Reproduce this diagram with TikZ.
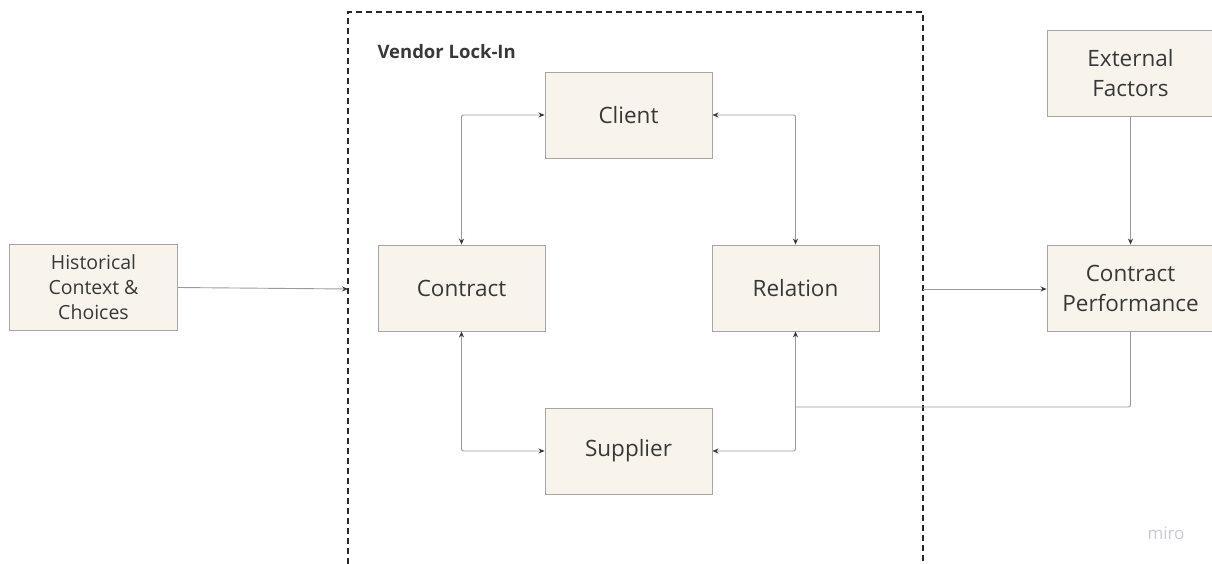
\documentclass[tikz,border=0pt]{standalone}
\usepackage{fontspec}
\setmainfont{Open Sans}
\usetikzlibrary{arrows.meta}
\definecolor{boxfill}{HTML}{F8F4EC}
\definecolor{boxline}{HTML}{A6A6A6}
\definecolor{conn}{HTML}{9A9A9A}
\definecolor{txt}{HTML}{383838}
\definecolor{miro}{HTML}{CACAD6}
\tikzset{
  x=1pt,y=-1pt,
  block/.style={draw=boxline,fill=boxfill,line width=0.9pt,minimum width=167pt,minimum height=86pt,inner sep=0pt,align=center,text=txt,font=\fontsize{22.5}{30}\selectfont},
  smallblock/.style={block,font=\fontsize{19.5}{25}\selectfont},
  conn/.style={draw=conn,line width=0.9pt,rounded corners=2pt,-{Stealth[length=6pt,width=5pt,fill=txt,color=txt]}},
  biconn/.style={conn,{Stealth[length=6pt,width=5pt,fill=txt,color=txt]}-{Stealth[length=6pt,width=5pt,fill=txt,color=txt]}},
  plain/.style={draw=conn,line width=0.9pt,rounded corners=2pt},
  vendorbox/.style={draw=black!85,line width=1.3pt,dash pattern=on 6pt off 4pt}
}
\begin{document}
\begin{tikzpicture}
\useasboundingbox (0,0) rectangle (1212,564);
\fill[white] (0,0) rectangle (1212,564);
% vendor lock-in frame
\draw[vendorbox] (348,564) -- (348,12) -- (923,12) -- (923,564);
\node[anchor=west,font=\bfseries\fontsize{18.5}{22}\selectfont,text=txt] (vtitle) at (374,52) {Vendor Lock-In};
\coordinate (vin) at (348,289);
\coordinate (vout) at (923,289);
% nodes
\node[smallblock,minimum width=168pt] (hist) at (93.5,287.5) {Historical\\Context \&\\Choices};
\node[block] (client) at (628.5,115) {Client};
\node[block] (contract) at (461.5,288) {Contract};
\node[block] (relation) at (795.5,288) {Relation};
\node[block] (supplier) at (628.5,451) {Supplier};
\node[block,minimum width=167pt] (ext) at (1130.5,73.5) {External\\Factors};
\node[block,minimum width=167pt] (cp) at (1130.5,288) {Contract\\Performance};
\coordinate (join) at (relation.south |- 0,407);
% connectors
\draw[conn] (hist.east) -- (vin);
\draw[conn] (vout) -- (vout -| cp.west);
\draw[biconn] (client.west) -| (contract.north);
\draw[biconn] (client.east) -| (relation.north);
\draw[biconn] (contract.south) |- (supplier.west);
\draw[biconn] (relation.south) |- (supplier.east);
\draw[conn] (ext.south) -- (cp.north);
\draw[plain] (cp.south) |- (join);
% watermark
\node[text=miro,font=\fontsize{17}{20}\selectfont] (mirologo) at (1166,533) {miro};
\end{tikzpicture}
\end{document}
